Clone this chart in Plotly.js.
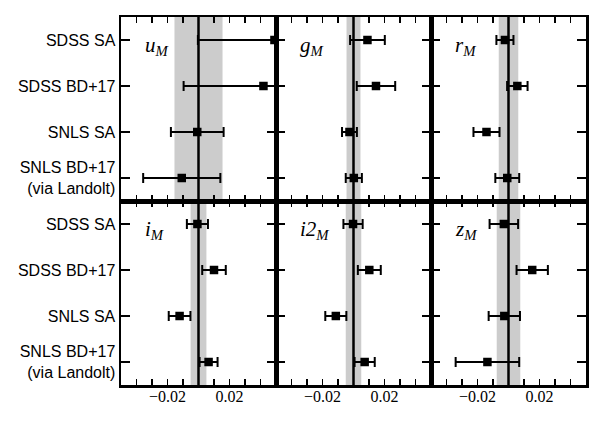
<!DOCTYPE html>
<html>
<head>
<meta charset="utf-8">
<script src="https://cdn.plot.ly/plotly-3.0.1.min.js"></script>
<style>html,body{margin:0;padding:0;background:#fff;}#chart{width:600px;height:421px;}</style>
</head>
<body>
<div id="chart"></div>
<script>
const categories = ['SDSS SA', 'SDSS BD+17', 'SNLS SA', 'SNLS BD+17<br>(via Landolt)'];
const panelNames = ['u', 'g', 'r', 'i', 'i2', 'z'];

const uVals  = [0.0490, 0.0419, -0.0008, -0.0108];
const uErrs  = [0.0494, 0.0515, 0.0170, 0.0249];
const gVals  = [0.0090, 0.0145, -0.0026, 0.0002];
const gErrs  = [0.0112, 0.0124, 0.0048, 0.0052];
const rVals  = [-0.0023, 0.0057, -0.0142, -0.0008];
const rErrs  = [0.0055, 0.0066, 0.0084, 0.0077];
const iVals  = [-0.0007, 0.0100, -0.0122, 0.0065];
const iErrs  = [0.0068, 0.0076, 0.0070, 0.0058];
const i2Vals = [-0.0003, 0.0102, -0.0114, 0.0072];
const i2Errs = [0.0062, 0.0074, 0.0068, 0.0065];
const zVals  = [-0.0030, 0.0153, -0.0027, -0.0136];
const zErrs  = [0.0092, 0.0101, 0.0101, 0.0205];

const bandHalfWidth = [0.0155, 0.0045, 0.0063, 0.0051, 0.0050, 0.0076];
const refLine = [0, 0, 0, 0, 0, 0];

const xTickVals = [-0.02, 0.02];
const xTickText = ['\u22120.02', '0.02'];
const xMinorTickVals = [-0.04, -0.03, -0.01, 0, 0.01, 0.03, 0.04];

const allVals = [uVals, gVals, rVals, iVals, i2Vals, zVals];
const allErrs = [uErrs, gErrs, rErrs, iErrs, i2Errs, zErrs];

const traces = [];
const shapes = [];
const annotations = [];
const layout = {
  width: 600, height: 421,
  margin: {l: 121, r: 14, t: 17, b: 36},
  paper_bgcolor: '#fff', plot_bgcolor: '#fff',
  showlegend: false,
  font: {family: 'Liberation Serif, Times New Roman, serif', color: '#000'}
};

for (let p = 0; p < 6; p++) {
  const n = p + 1;
  const xa = 'x' + (n === 1 ? '' : n);
  const ya = 'y' + (n === 1 ? '' : n);
  const col = p % 3, row = Math.floor(p / 3);
  traces.push({
    type: 'scatter', mode: 'markers',
    x: allVals[p], y: categories,
    xaxis: xa, yaxis: ya,
    marker: {symbol: 'square', size: 8.5, color: '#000'},
    error_x: {type: 'data', array: allErrs[p], visible: true, color: '#000', thickness: 2, width: 5},
    hoverinfo: 'x+y'
  });
  layout['xaxis' + (n === 1 ? '' : n)] = {
    domain: [col / 3, (col + 1) / 3],
    anchor: ya,
    range: [-0.05, 0.05],
    tickmode: 'array', tickvals: xTickVals, ticktext: xTickText,
    showticklabels: row === 1,
    ticks: 'inside', ticklen: 6, tickwidth: 1.5, tickcolor: '#000',
    minor: {tickmode: 'array', tickvals: xMinorTickVals, ticks: 'inside', ticklen: 6, tickwidth: 1.5, tickcolor: '#000', showgrid: false},
    mirror: 'allticks', showline: true, linewidth: 2.5, linecolor: '#000',
    showgrid: false, zeroline: false,
    ticklabelstandoff: -5,
    tickfont: {family: 'Liberation Serif, Times New Roman, serif', size: 16, color: '#000'}
  };
  layout['yaxis' + (n === 1 ? '' : n)] = {
    domain: row === 0 ? [0.5, 1] : [0, 0.5],
    anchor: xa,
    type: 'category', categoryorder: 'array', categoryarray: categories,
    range: [3.5, -0.5],
    showticklabels: col === 0,
    ticks: 'inside', ticklen: 9, tickwidth: 1.5, tickcolor: '#000',
    mirror: 'allticks', showline: true, linewidth: 2.5, linecolor: '#000',
    showgrid: false, zeroline: false,
    ticklabelstandoff: 0,
    tickfont: {family: 'Liberation Sans, Arial, sans-serif', size: 16, color: '#000'}
  };
  shapes.push({
    type: 'rect', xref: xa, yref: ya + ' domain',
    x0: refLine[p] - bandHalfWidth[p], x1: refLine[p] + bandHalfWidth[p], y0: 0, y1: 1,
    fillcolor: '#cccccc', line: {width: 0}, layer: 'below'
  });
  shapes.push({
    type: 'line', xref: xa, yref: ya + ' domain',
    x0: refLine[p], x1: refLine[p], y0: 0, y1: 1,
    line: {color: '#000', width: 2.5}, layer: 'below'
  });
  const name = panelNames[p];
  annotations.push({
    xref: xa + ' domain', yref: ya + ' domain',
    x: 0.14, y: 0.84, xanchor: 'left', yanchor: 'middle',
    showarrow: false,
    text: '<i>' + name + '</i><sub><i>M</i></sub>',
    font: {family: 'Liberation Serif, Times New Roman, serif', size: 21, color: '#000'}
  });
}
layout.shapes = shapes;
layout.annotations = annotations;

Plotly.newPlot('chart', traces, layout, {displayModeBar: false, staticPlot: true});
</script>
</body>
</html>
